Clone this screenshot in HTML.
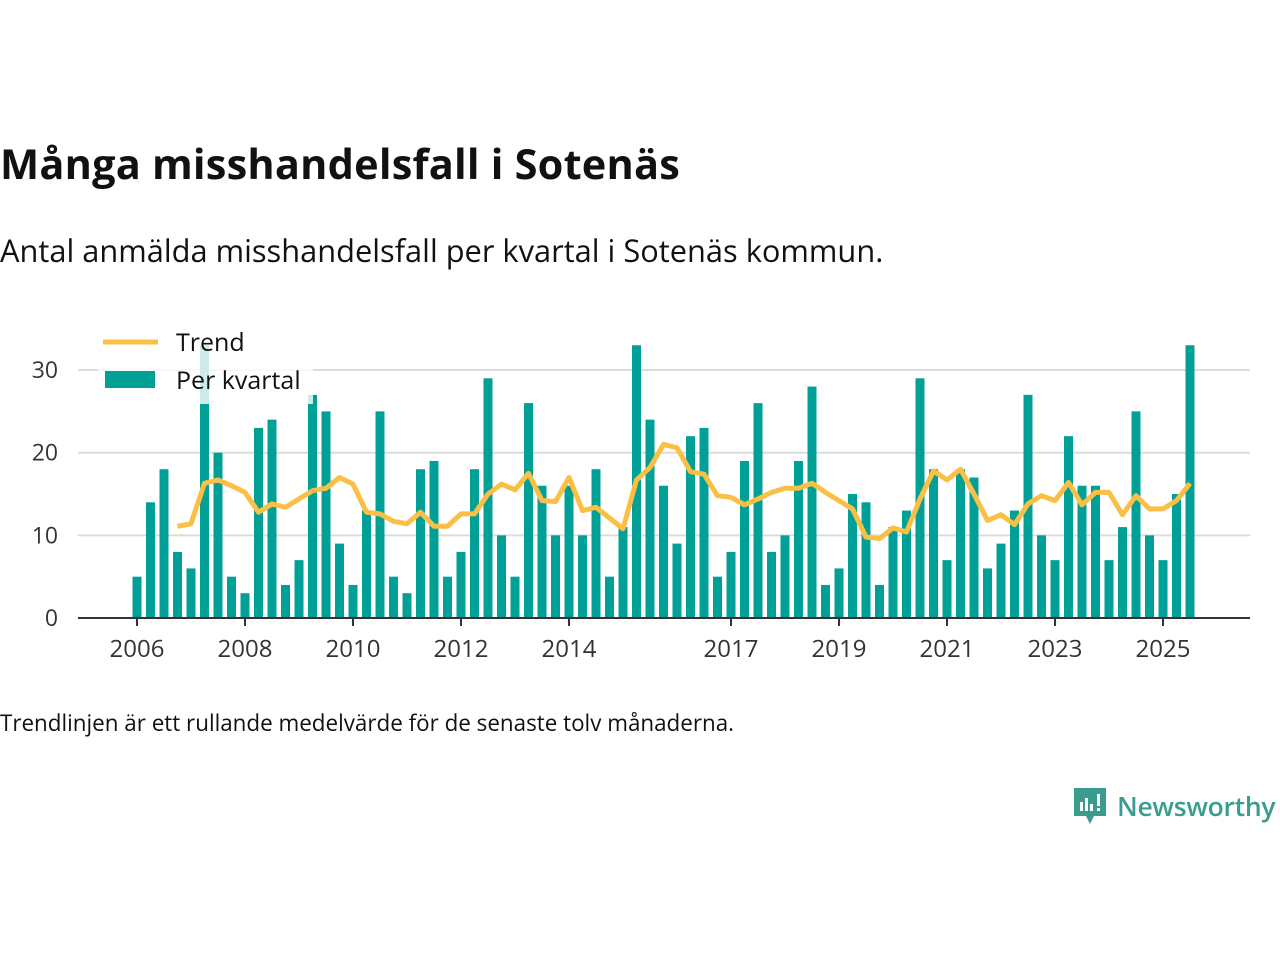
<!DOCTYPE html>
<html><head><meta charset="utf-8">
<style>
body{margin:0;width:1280px;height:960px;background:#fff;font-family:"Open Sans","Liberation Sans",sans-serif;overflow:hidden;position:relative;color:#111}
#title{position:absolute;left:0;top:136px;font-size:41.5px;font-weight:bold;margin:0;letter-spacing:0.2px;white-space:nowrap}
#sub{position:absolute;left:0;top:230px;font-size:30.8px;margin:0;white-space:nowrap}
#note{position:absolute;left:0;top:707px;font-size:22.4px;margin:0;white-space:nowrap}
#logo{position:absolute;left:1072px;top:786px;display:flex;align-items:center}
#logo span{font-size:26.5px;color:#3a9b8f;font-weight:600;margin-left:9px;letter-spacing:-0.3px}
svg{position:absolute;left:0;top:0}
svg text{font-family:"Open Sans","Liberation Sans",sans-serif}
</style></head><body>
<h1 id="title">Många misshandelsfall i Sotenäs</h1>
<p id="sub">Antal anmälda misshandelsfall per kvartal i Sotenäs kommun.</p>
<p id="note">Trendlinjen är ett rullande medelvärde för de senaste tolv månaderna.</p>
<div id="logo">
<svg width="36" height="40" viewBox="0 0 36 40" style="position:static"><path d="M2 2h32v28H22l-4 8-4-8H2z" fill="#3a9b8f"/><rect x="8" y="16" width="3" height="9" fill="#fff"/><rect x="13" y="12" width="3" height="13" fill="#fff"/><rect x="18" y="18" width="3" height="7" fill="#fff"/><rect x="25" y="8" width="3" height="12" fill="#fff"/><rect x="25" y="22" width="3" height="3" fill="#fff"/></svg>
<span>Newsworthy</span></div>
<svg id="chart" width="1280" height="960"></svg>
<script>
const barValues=[5,14,18,8,6,33,20,5,3,23,24,4,7,27,25,9,4,13,25,5,3,18,19,5,8,18,29,10,5,26,16,10,16,10,18,5,11,33,24,16,9,22,23,5,8,19,26,8,10,19,28,4,6,15,14,4,11,13,29,18,7,18,17,6,9,13,27,10,7,22,16,16,7,11,25,10,7,15,33];
const trendValues=[null,null,null,11.1,11.4,16.3,16.7,16.0,15.2,12.8,13.8,13.4,14.4,15.4,15.7,17.0,16.2,12.8,12.6,11.7,11.4,12.8,11.1,11.1,12.6,12.6,15.0,16.2,15.5,17.5,14.2,14.1,17.0,13.0,13.4,12.1,10.8,16.7,18.2,21.0,20.6,17.7,17.4,14.8,14.6,13.7,14.4,15.2,15.7,15.7,16.3,15.2,14.2,13.2,9.8,9.6,10.9,10.4,14.4,17.8,16.7,18.0,15.0,11.8,12.5,11.3,13.8,14.8,14.2,16.4,13.7,15.2,15.2,12.5,14.8,13.2,13.2,14.2,16.3];
const yTicks=[0,10,20,30];
const xTickYears=[2006,2008,2010,2012,2014,2017,2019,2021,2023,2025];
const startYear=2006;
const NS='http://www.w3.org/2000/svg';
const svg=document.getElementById('chart');
const x=i=>137+13.5*i;
const y=v=>618-v*8.265;
const xYear=yr=>x((yr-startYear)*4);
function mk(t,a){const e=document.createElementNS(NS,t);for(const k in a)e.setAttribute(k,a[k]);svg.appendChild(e);return e;}
yTicks.forEach(t=>{
  if(t>0){const g=mk('line',{x1:78,x2:1250,y1:y(t),y2:y(t),stroke:'#dcdcdc','stroke-width':2});
  
  }
  const l=mk('text',{x:58,y:y(t)+8,'text-anchor':'end','font-size':23,fill:'#333'});
  l.textContent=t;
  
  
});
barValues.forEach((v,i)=>{
  const b=mk('rect',{x:x(i)-4.5,y:y(v),width:9,height:618-y(v),fill:'#00a096'});
  
  
});
let d='';trendValues.forEach((v,i)=>{if(v==null)return;d+=(d?'L':'M')+x(i)+' '+y(v);});
const tl=mk('path',{d:d,fill:'none',stroke:'#fbbf45','stroke-width':5,'stroke-linejoin':'round'});


const ax=mk('line',{x1:78,x2:1250,y1:618,y2:618,stroke:'#333','stroke-width':2});


xTickYears.forEach(yr=>{
  const t=mk('line',{x1:xYear(yr),x2:xYear(yr),y1:618,y2:626,stroke:'#333','stroke-width':2});
  
  
  const l=mk('text',{x:xYear(yr),y:657,'text-anchor':'middle','font-size':24,fill:'#333'});
  l.textContent=yr;
  
  
});
const lg=mk('rect',{x:98,y:324,width:215,height:80,fill:'#fff','fill-opacity':0.8});


const ls=mk('line',{x1:103,x2:158,y1:342,y2:342,stroke:'#fbbf45','stroke-width':5});


const lt=mk('text',{x:176,y:351,'font-size':25,fill:'#111'});lt.textContent='Trend';


const bs=mk('rect',{x:105,y:371,width:50,height:17,fill:'#00a096'});


const bt=mk('text',{x:176,y:389,'font-size':25,fill:'#111'});bt.textContent='Per kvartal';


</script>
</body></html>
